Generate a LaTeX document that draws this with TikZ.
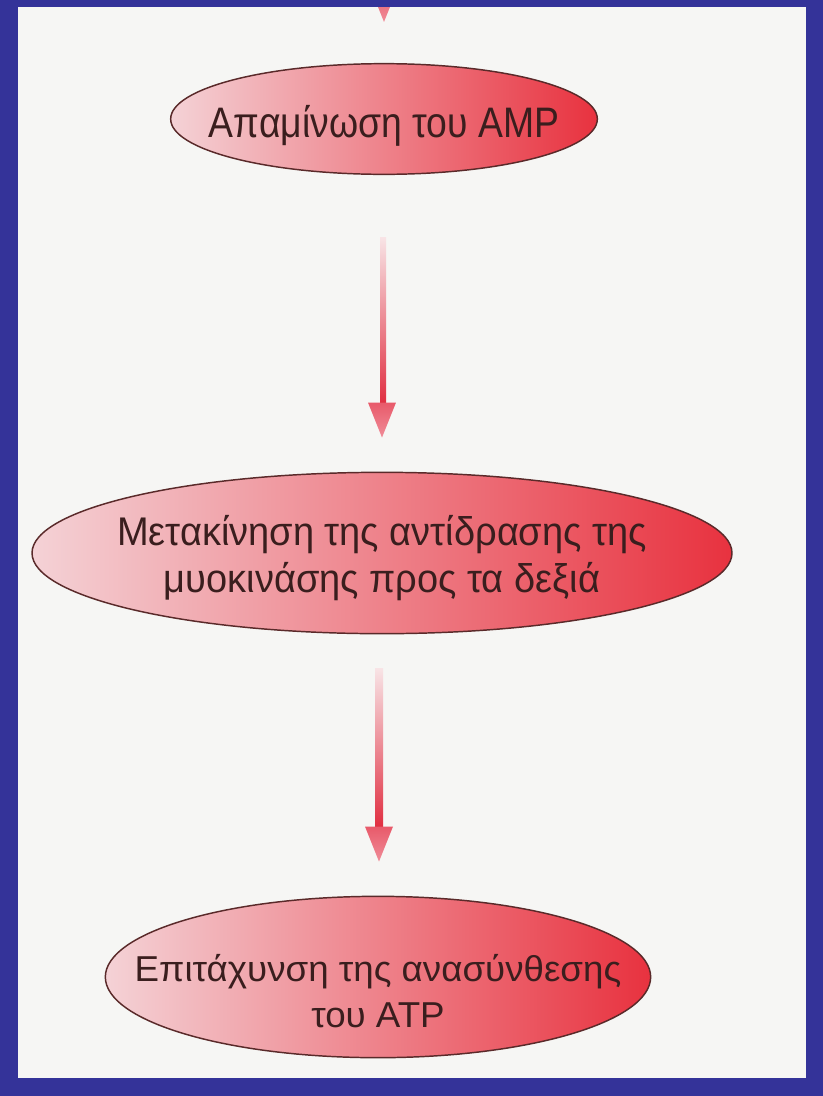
\documentclass[tikz,border=0pt]{standalone}
\usepackage{fontspec}
\setmainfont{Liberation Sans}
\newfontfamily\fonta{Liberation Sans}[FakeStretch=0.875]
\newfontfamily\fontb{Liberation Sans}[FakeStretch=0.95]
\newfontfamily\fontc{Liberation Sans}[FakeStretch=1.02]
\usetikzlibrary{shapes.geometric,calc}
\definecolor{frameblue}{HTML}{343399}
\definecolor{paper}{HTML}{F6F6F4}
\definecolor{pale}{HTML}{F4D2D6}
\definecolor{midpink}{HTML}{EE7A86}
\definecolor{deepred}{HTML}{E8323F}
\definecolor{inkbrown}{HTML}{3A1E1E}
\definecolor{rim}{HTML}{5A2A2A}
\definecolor{shafttop}{HTML}{F8E4E6}
\definecolor{shaftmid}{HTML}{E65666}
\definecolor{shaftbot}{HTML}{E02E40}
\definecolor{headtop}{HTML}{E85A6A}
\definecolor{headbot}{HTML}{F08C98}
\tikzset{
  bubble/.style={ellipse, draw=rim, line width=1.1pt, left color=pale, middle color=midpink, right color=deepred,
    inner sep=0pt},
  btext/.style={text=inkbrown, align=center, inner sep=0pt},
}
\newcommand{\gradarrow}[2]{%
  \shade[top color=shafttop, middle color=shaftmid, bottom color=shaftbot] ($(#1)+(-4,0)$) rectangle ($(#2)+(4,-34)$);
  \shade[top color=headtop, bottom color=headbot] ($(#2)+(-14,-35)$) -- (#2) -- ($(#2)+(14,-35)$) -- cycle;
}
\begin{document}
\begin{tikzpicture}[x=0.75pt,y=-0.75pt]
\useasboundingbox (0,0) rectangle (823,1096);
\fill[frameblue] (0,0) rectangle (823,1096);
\fill[paper] (18,7) rectangle (806,1078);

\node[bubble, minimum width=320pt, minimum height=83pt] (e1) at (384,119) {};
\node[btext, font=\fonta\fontsize{32}{36}\selectfont] (t1) at ($(e1.center)+(0,7)$) {Απαμίνωση του AMP};

\node[bubble, minimum width=525pt, minimum height=121pt] (e2) at (382,553) {};
\node[btext, font=\fontb\fontsize{30}{35}\selectfont] (t2) at ($(e2.center)+(0,5)$) {Μετακίνηση της αντίδρασης της\\μυοκινάσης προς τα δεξιά};

\node[bubble, minimum width=409pt, minimum height=121pt] (e3) at (378,977) {};
\node[btext, font=\fontc\fontsize{27}{34.5}\selectfont] (t3) at ($(e3.center)+(0,14)$) {Επιτάχυνση της ανασύνθεσης\\του ATP};

\coordinate (top) at ($(e1.north)+(0,-90)$);
\coordinate (tip1) at ($(e1.north)+(0,-41)$);
\begin{scope}
  \clip (18,7) rectangle (806,1078);
  \gradarrow{top}{tip1}
\end{scope}

\coordinate (s2) at ($(e1.south)+(0,62)$);
\coordinate (tip2) at ($(e2.north)+(0,-34)$);
\gradarrow{s2}{tip2}

\coordinate (s3) at ($(e3.north |- e2.south)+(1,34)$);
\coordinate (tip3) at ($(e3.north)+(1,-34)$);
\gradarrow{s3}{tip3}
\end{tikzpicture}
\end{document}
